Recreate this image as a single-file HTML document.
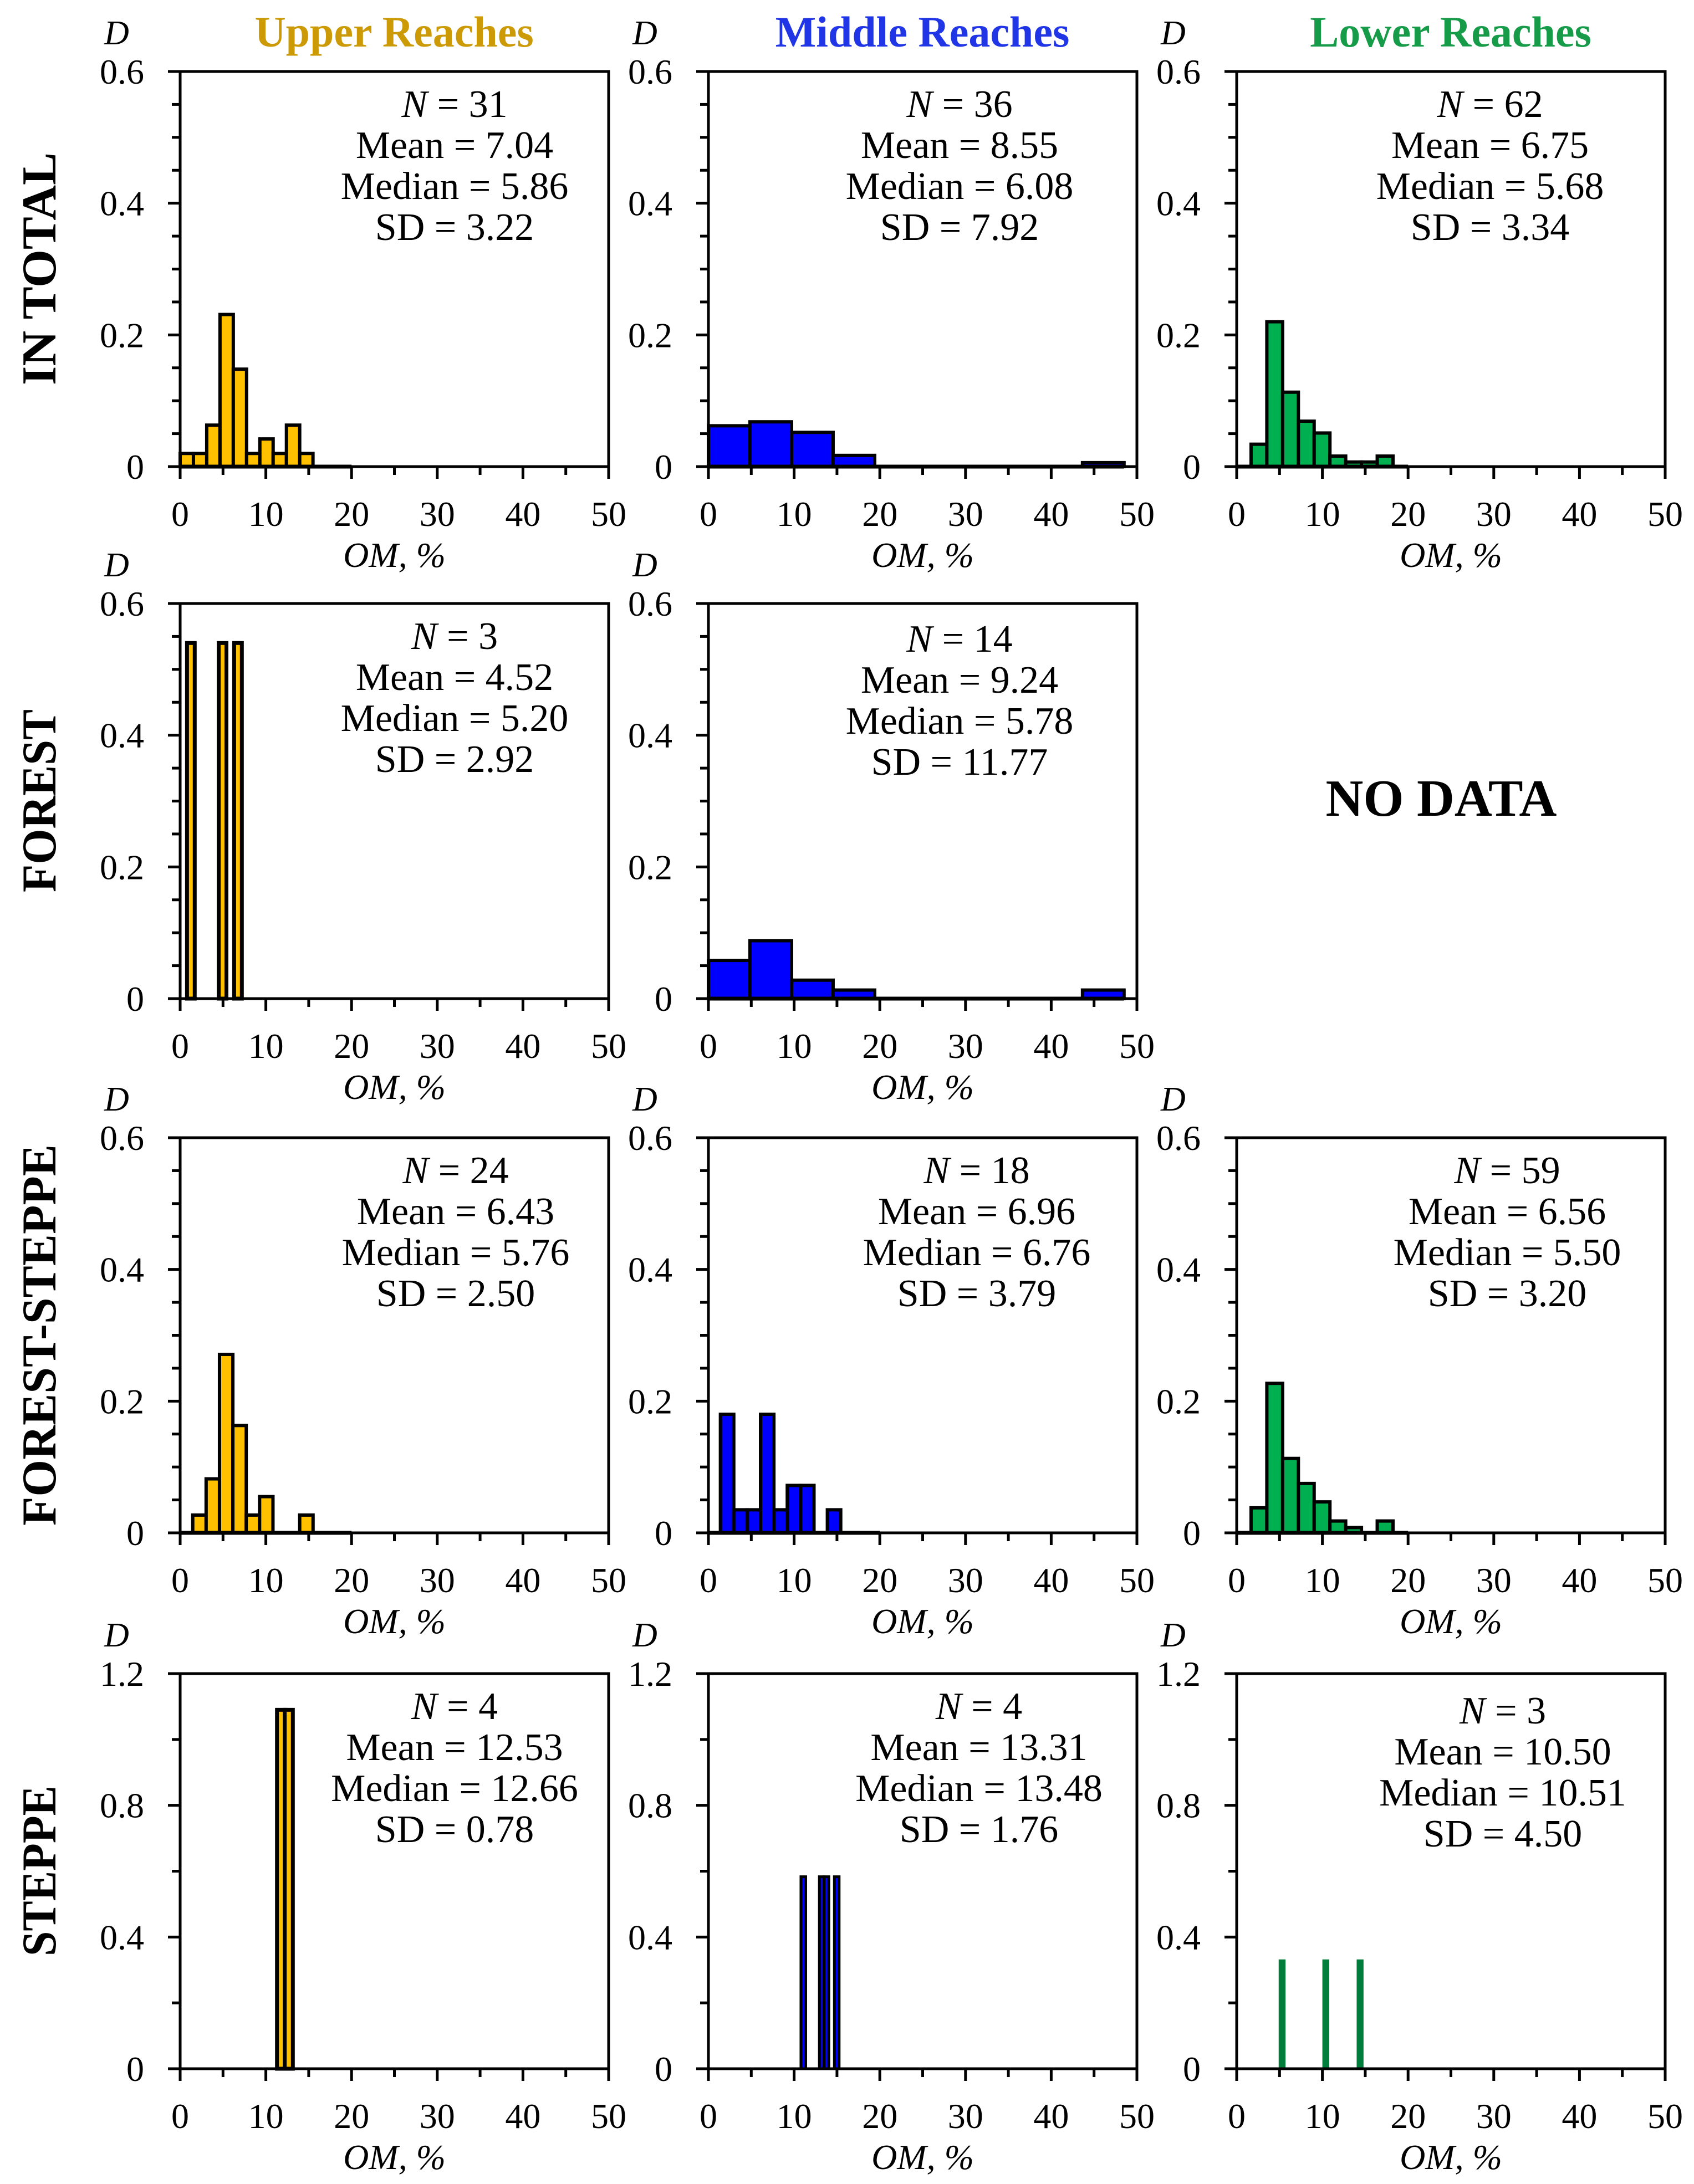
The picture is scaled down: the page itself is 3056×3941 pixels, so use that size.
<!DOCTYPE html>
<html>
<head>
<meta charset="utf-8">
<style>
html,body{margin:0;padding:0;background:#fff;}
svg{display:block;}
text{font-family:"Liberation Serif","DejaVu Serif",serif;}
</style>
</head>
<body>
<svg id="fig" width="3056" height="3941" viewBox="0 0 3056 3941" xmlns="http://www.w3.org/2000/svg">
<rect x="0" y="0" width="3056" height="3941" fill="#fff"/>
<text x="711" y="84" font-size="78" font-weight="bold" fill="#CC9A06" text-anchor="middle">Upper Reaches</text>
<text x="1664" y="84" font-size="78" font-weight="bold" fill="#1F35E6" text-anchor="middle">Middle Reaches</text>
<text x="2617" y="84" font-size="78" font-weight="bold" fill="#169B48" text-anchor="middle">Lower Reaches</text>
<text transform="translate(100,485) rotate(-90)" font-size="88" font-weight="bold" text-anchor="middle" textLength="420" lengthAdjust="spacingAndGlyphs">IN TOTAL</text>
<text transform="translate(100,1445) rotate(-90)" font-size="88" font-weight="bold" text-anchor="middle" textLength="330" lengthAdjust="spacingAndGlyphs">FOREST</text>
<text transform="translate(100,2409) rotate(-90)" font-size="88" font-weight="bold" text-anchor="middle" textLength="688" lengthAdjust="spacingAndGlyphs">FOREST-STEPPE</text>
<text transform="translate(100,3376) rotate(-90)" font-size="88" font-weight="bold" text-anchor="middle" textLength="308" lengthAdjust="spacingAndGlyphs">STEPPE</text>
<text x="2600" y="1472" font-size="94" font-weight="bold" text-anchor="middle">NO DATA</text>
<g id="panels"></g>
</svg>
<script>
// ---- data (OM %, density D) ----
const p11Start = 0,    p11Width = 1.55, p11Values = [0.02,0.02,0.063,0.231,0.148,0.02,0.042,0.02,0.063,0.02];
const p12Start = 0,    p12Width = 4.85, p12Values = [0.062,0.068,0.052,0.017,0,0,0,0,0,0.006];
const p13Start = 1.68, p13Width = 1.84, p13Values = [0.034,0.22,0.113,0.069,0.051,0.016,0.007,0.007,0.016];
const p21Starts = [0.8,4.5,6.3], p21Width = 0.9, p21Values = [0.54,0.54,0.54];
const p22Start = 0,    p22Width = 4.85, p22Values = [0.058,0.088,0.028,0.013,0,0,0,0,0,0.013];
const p31Start = 1.47, p31Width = 1.56, p31Values = [0.027,0.082,0.271,0.163,0.027,0.055,0,0,0.027];
const p32Start = 1.4,  p32Width = 1.56, p32Values = [0.18,0.035,0.035,0.18,0.035,0.072,0.072,0,0.035];
const p33Start = 1.68, p33Width = 1.84, p33Values = [0.038,0.227,0.113,0.075,0.047,0.018,0.008,0,0.018];
const p41Starts = [11.3,12.2], p41Width = 0.95, p41Values = [1.09,1.09];
const p42Starts = [10.8,12.95,13.5,14.7], p42Width = 0.55, p42Values = [0.583,0.583,0.583,0.583];
const p43Starts = [4.9,10.0,14.0], p43Width = 0.8, p43Values = [0.332,0.332,0.332];
const xTickLabels = ["0","10","20","30","40","50"];
const yTickLabelsA = ["0","0.2","0.4","0.6"];
const yTickLabelsB = ["0","0.4","0.8","1.2"];
const stats11 = ["31","7.04","5.86","3.22"];
const stats12 = ["36","8.55","6.08","7.92"];
const stats13 = ["62","6.75","5.68","3.34"];
const stats21 = ["3","4.52","5.20","2.92"];
const stats22 = ["14","9.24","5.78","11.77"];
const stats31 = ["24","6.43","5.76","2.50"];
const stats32 = ["18","6.96","6.76","3.79"];
const stats33 = ["59","6.56","5.50","3.20"];
const stats41 = ["4","12.53","12.66","0.78"];
const stats42 = ["4","13.31","13.48","1.76"];
const stats43 = ["3","10.50","10.51","4.50"];

const NS = "http://www.w3.org/2000/svg";
const root = document.getElementById('panels');
const colLeft = [325,1278,2231];
const rowTop = [129,1089,2053,3020];
const W = 773, H = 713;
const FILL = ["#FFC000","#0000FF","#00B050"];

function el(tag, attrs, parent){
  const e = document.createElementNS(NS, tag);
  for (const k in attrs) e.setAttribute(k, attrs[k]);
  (parent||root).appendChild(e);
  return e;
}
function range(start, w, n){ const a=[]; for(let i=0;i<n;i++) a.push(start+i*w); return a; }

function panel(r, c, ymax, yLabels, minorStep, starts, width, values, stats, cxOff, opts){
  opts = opts || {};
  const L = colLeft[c], T = rowTop[r], B = T + H;
  const g = el('g', {});
  
  
  const xs = v => L + v / 50 * W;
  const ys = v => B - v / ymax * H;
  for (let i = 0; i < values.length; i++) {
    if (values[i] <= 0) continue;
    const x0 = xs(starts[i]), x1 = xs(starts[i] + width);
    const rc = el('rect', {x:x0, y:ys(values[i]), width:x1-x0, height:B-ys(values[i]),
      fill: opts.fill || FILL[c], stroke: opts.noStroke ? 'none' : '#000',
      'stroke-width': opts.sw || 6}, g);
    
    
  }
  if (!opts.noExt) {
    el('line', {x1:L, y1:B, x2:xs(Math.max(20, starts[starts.length-1]+width)), y2:B, stroke:'#000','stroke-width':7}, g);
  }
  const fr = el('rect', {x:L, y:T, width:W, height:H, fill:'none', stroke:'#000', 'stroke-width':5}, g);
  
  
  const nMinor = Math.round(ymax / minorStep);
  for (let i = 0; i <= nMinor; i++) {
    const y = ys(i * minorStep);
    const major = (i % (nMinor/ (yLabels.length-1))) === 0;
    el('line', {x1:L - (major ? 22 : 15), y1:y, x2:L, y2:y, stroke:'#000','stroke-width':5}, g);
  }
  for (let i = 0; i < yLabels.length; i++) {
    const t = el('text', {x:L - 65, y:ys(ymax * i / (yLabels.length-1)) + 22, 'font-size':64, 'text-anchor':'end'}, g);
    t.textContent = yLabels[i];
    
    
  }
  for (let v = 0; v <= 50; v += 5) {
    const major = v % 10 === 0;
    el('line', {x1:xs(v), y1:B, x2:xs(v), y2:B + (major ? 22 : 15), stroke:'#000','stroke-width':5}, g);
  }
  for (let i = 0; i < xTickLabels.length; i++) {
    const t = el('text', {x:xs(i*10), y:B + 107, 'font-size':64, 'text-anchor':'middle'}, g);
    t.textContent = xTickLabels[i];
    
    
  }
  const xl = el('text', {x:L + W/2, y:B + 181, 'font-size':64, 'font-style':'italic', 'text-anchor':'middle'}, g);
  xl.textContent = 'OM, %';
  
  
  const yl = el('text', {x:L - 137, y:T - 49, 'font-size':62, 'font-style':'italic'}, g);
  yl.textContent = 'D';
  
  
  const cx = L + cxOff, y0 = T + 82 + (opts.dy || 0);
  const t1 = el('text', {x:cx, y:y0, 'font-size':70, 'text-anchor':'middle'}, g);
  
  
  const ti = el('tspan', {'font-style':'italic'}, t1); ti.textContent = 'N';
  const tr = el('tspan', {}, t1); tr.textContent = ' = ' + stats[0];
  const lines = ['Mean = ' + stats[1], 'Median = ' + stats[2], 'SD = ' + stats[3]];
  const nm = ['stat-mean','stat-median','stat-sd'];
  for (let i = 0; i < 3; i++) {
    const t = el('text', {x:cx, y:y0 + 74*(i+1), 'font-size':70, 'text-anchor':'middle'}, g);
    t.textContent = lines[i];
    
    
  }
}

panel(0,0,0.6,yTickLabelsA,0.05, range(p11Start,p11Width,p11Values.length), p11Width, p11Values, stats11, 495);
panel(0,1,0.6,yTickLabelsA,0.05, range(p12Start,p12Width,p12Values.length), p12Width, p12Values, stats12, 453);
panel(0,2,0.6,yTickLabelsA,0.05, range(p13Start,p13Width,p13Values.length), p13Width, p13Values, stats13, 457);
panel(1,0,0.6,yTickLabelsA,0.05, p21Starts, p21Width, p21Values, stats21, 495, {sw:7, noExt:true});
panel(1,1,0.6,yTickLabelsA,0.05, range(p22Start,p22Width,p22Values.length), p22Width, p22Values, stats22, 453, {dy:5});
panel(2,0,0.6,yTickLabelsA,0.05, range(p31Start,p31Width,p31Values.length), p31Width, p31Values, stats31, 497);
panel(2,1,0.6,yTickLabelsA,0.05, range(p32Start,p32Width,p32Values.length), p32Width, p32Values, stats32, 484);
panel(2,2,0.6,yTickLabelsA,0.05, range(p33Start,p33Width,p33Values.length), p33Width, p33Values, stats33, 488);
panel(3,0,1.2,yTickLabelsB,0.2, p41Starts, p41Width, p41Values, stats41, 495, {sw:7, noExt:true});
panel(3,1,1.2,yTickLabelsB,0.2, p42Starts, p42Width, p42Values, stats42, 488, {sw:5, noExt:true});
panel(3,2,1.2,yTickLabelsB,0.2, p43Starts, p43Width, p43Values, stats43, 480, {noStroke:true, fill:'#007D3A', dy:8, noExt:true});
</script>
</body>
</html>
